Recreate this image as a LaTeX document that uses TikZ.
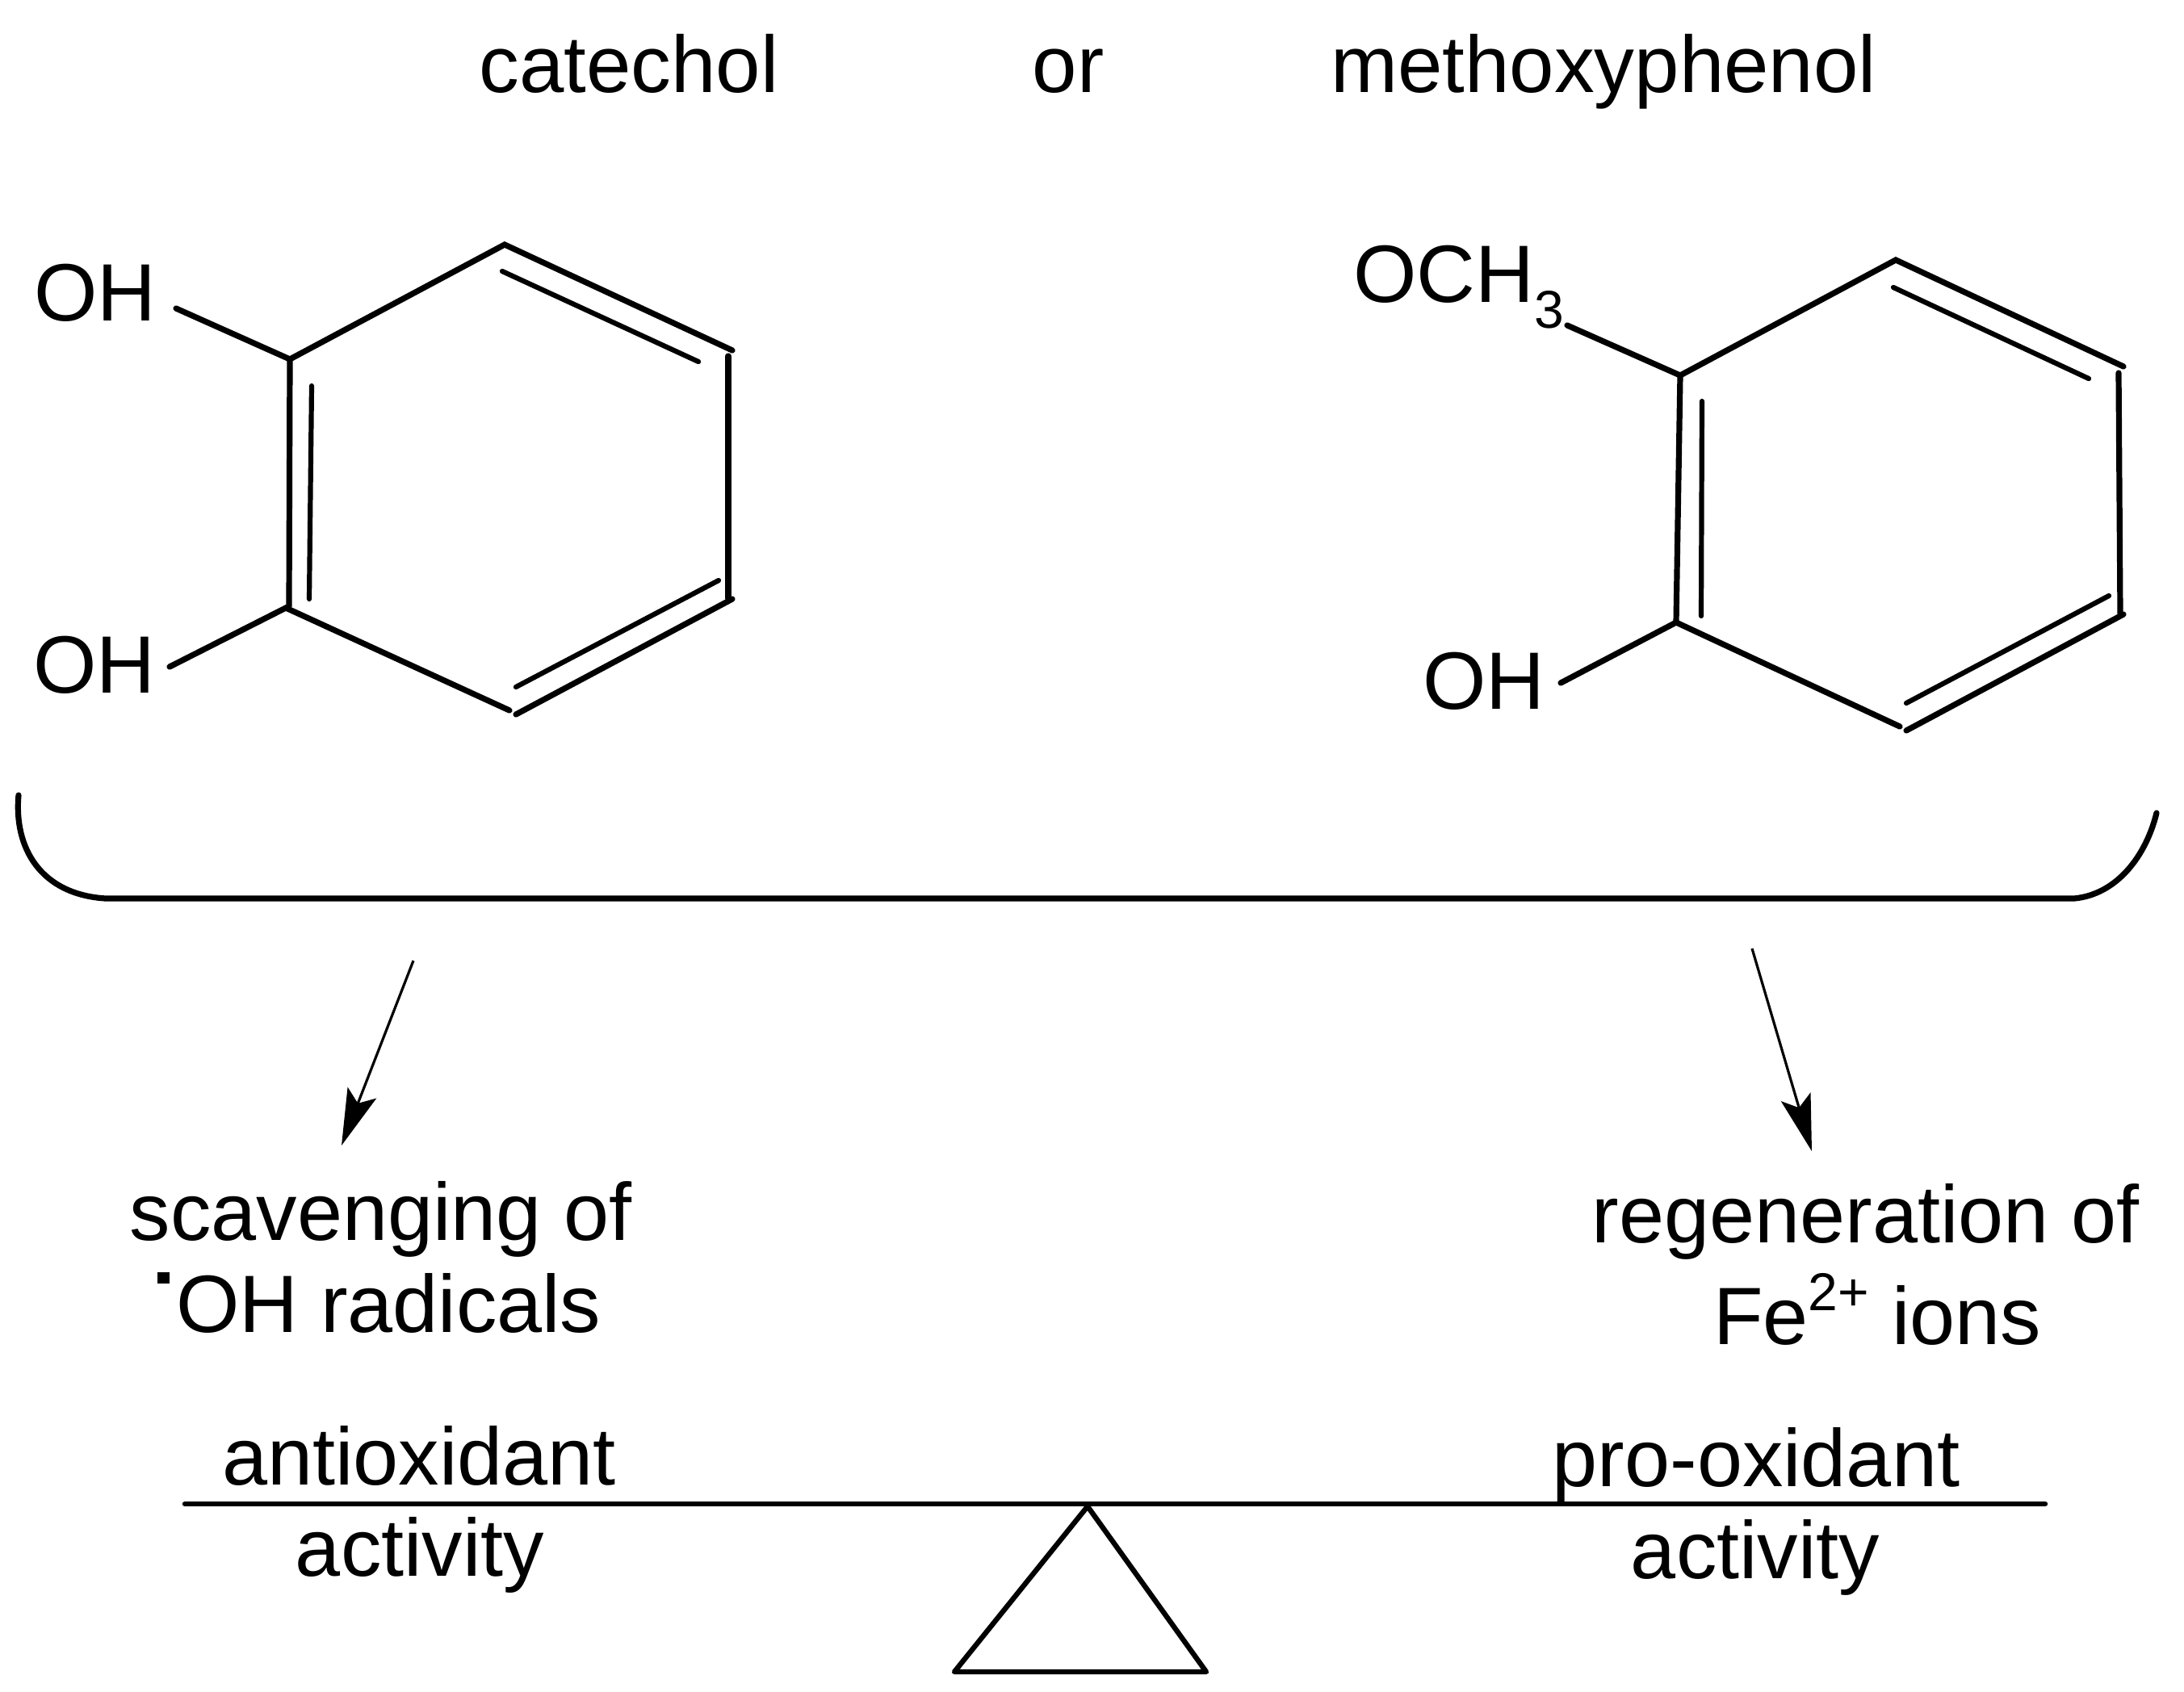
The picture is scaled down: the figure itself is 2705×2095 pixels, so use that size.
\documentclass[tikz,border=0pt]{standalone}
\usepackage{fontspec}
\setmainfont{Liberation Sans}
\usetikzlibrary{arrows.meta}
\newcommand{\subsup}[2]{\raisebox{#1}{\fontsize{33}{33}\selectfont #2}}
\tikzset{
  lbl/.style={inner sep=0pt,outer sep=0pt,font=\fontsize{50.4}{55}\selectfont,anchor=base},
  lblw/.style={lbl,anchor=base west},
  toplbl/.style={lbl,font=\fontsize{49.8}{55}\selectfont},
  bond/.style={line width=3.6pt,line cap=round},
  bondin/.style={line width=3.1pt,line cap=round},
  beam/.style={line width=3.2pt,line cap=round},
  thinarrow/.style={line width=1.6pt,-{Stealth[length=35pt,width=19pt,inset=7pt]}},
}
\begin{document}
\begin{tikzpicture}[x=0.5pt,y=-0.5pt]
\useasboundingbox (0,0) rectangle (2705,2095);
% top labels
\node[toplbl] (catechol) at (779,114) {catechol};
\node[toplbl] (ortxt) at (1323,114) {or};
\node[toplbl] (methoxy) at (1986,114) {methoxyphenol};
% left ring
\coordinate (a1) at (359,445);
\coordinate (a2) at (625,303);
\coordinate (a3) at (907,434);
\coordinate (a3v) at (902,441);
\coordinate (a4v) at (902,741);
\coordinate (a4) at (907,742);
\coordinate (a5) at (639,885);
\coordinate (a5b) at (631,880);
\coordinate (a6) at (354,753);
\coordinate (a6v) at (358,751);
\coordinate (ai1) at (622,336);
\coordinate (ai2) at (865,448);
\coordinate (ai3) at (386,478);
\coordinate (ai4) at (383,742);
\coordinate (ai5) at (639,851);
\coordinate (ai6) at (890,719);
\coordinate (ao1) at (218,382);
\coordinate (ao2) at (210,826);
\draw[bond] (ao1) -- (a1) -- (a2) -- (a3);
\draw[bond] (a1) -- (a6v);
\draw[bond] (ao2) -- (a6) -- (a5b);
\draw[bond] (a5) -- (a4);
\draw[bond] (a3v) -- (a4v);
\draw[bondin] (ai1) -- (ai2);
\draw[bondin] (ai3) -- (ai4);
\draw[bondin] (ai5) -- (ai6);
\node[lblw] (oh1) at (42,397) {OH};
\node[lblw] (oh2) at (41,858) {OH};
% right ring
\coordinate (b1) at (2081,465);
\coordinate (b2) at (2348,322);
\coordinate (b3) at (2630,454);
\coordinate (b3v) at (2624,462);
\coordinate (b4v) at (2626,760);
\coordinate (b4) at (2630,761);
\coordinate (b5) at (2361,905);
\coordinate (b5b) at (2353,900);
\coordinate (b6) at (2076,771);
\coordinate (bi1) at (2345,356);
\coordinate (bi2) at (2587,469);
\coordinate (bi3) at (2108,497);
\coordinate (bi4) at (2107,763);
\coordinate (bi5) at (2361,871);
\coordinate (bi6) at (2612,738);
\coordinate (bo1) at (1941,403);
\coordinate (bo2) at (1933,846);
\draw[bond] (bo1) -- (b1) -- (b2) -- (b3);
\draw[bond] (b1) -- (b6);
\draw[bond] (bo2) -- (b6) -- (b5b);
\draw[bond] (b5) -- (b4);
\draw[bond] (b3v) -- (b4v);
\draw[bondin] (bi1) -- (bi2);
\draw[bondin] (bi3) -- (bi4);
\draw[bondin] (bi5) -- (bi6);
\node[lblw] (och) at (1676,374) {OCH\subsup{-16pt}{3}};
\node[lblw] (oh3) at (1762,878) {OH};
% bracket
\coordinate (bl0) at (23,985);
\coordinate (bl1) at (131,1113);
\coordinate (br1) at (2569,1113);
\coordinate (br0) at (2671,1007);
\draw[bond] (bl0) .. controls (17,1050) and (50,1108) .. (bl1) -- (br1) .. controls (2622,1108) and (2658,1060) .. (br0);
% arrows
\coordinate (l0) at (512,1190);
\coordinate (l1) at (423,1419);
\coordinate (r0) at (2170,1175);
\coordinate (r1) at (2244,1426);
\draw[thinarrow] (l0) -- (l1);
\draw[thinarrow] (r0) -- (r1);
% labels
\node[lbl] (scav) at (472,1536) {scavenging of};
\node[lblw] (rad) at (195,1650) {\rule[30pt]{7.5pt}{7pt}\kern4pt OH radicals};
\node[lbl] (regen) at (2311,1539) {regeneration of};
\node[lbl] (fe) at (2325,1665) {Fe\subsup{21pt}{2+} ions};
\node[lbl] (anti) at (519,1839) {antioxidant};
\node[lbl] (act1) at (520,1952) {activity};
\node[lbl] (pro) at (2175,1841) {pro-oxidant};
\node[lbl] (act2) at (2174,1955) {activity};
% balance
\coordinate (bm0) at (229,1863);
\coordinate (bm1) at (2533,1863);
\coordinate (t0) at (1347,1866);
\coordinate (t1) at (1494,2071);
\coordinate (t2) at (1182,2071);
\draw[beam] (bm0) -- (bm1);
\draw[beam,line join=round] (t0) -- (t1) -- (t2) -- cycle;
\end{tikzpicture}
\end{document}
